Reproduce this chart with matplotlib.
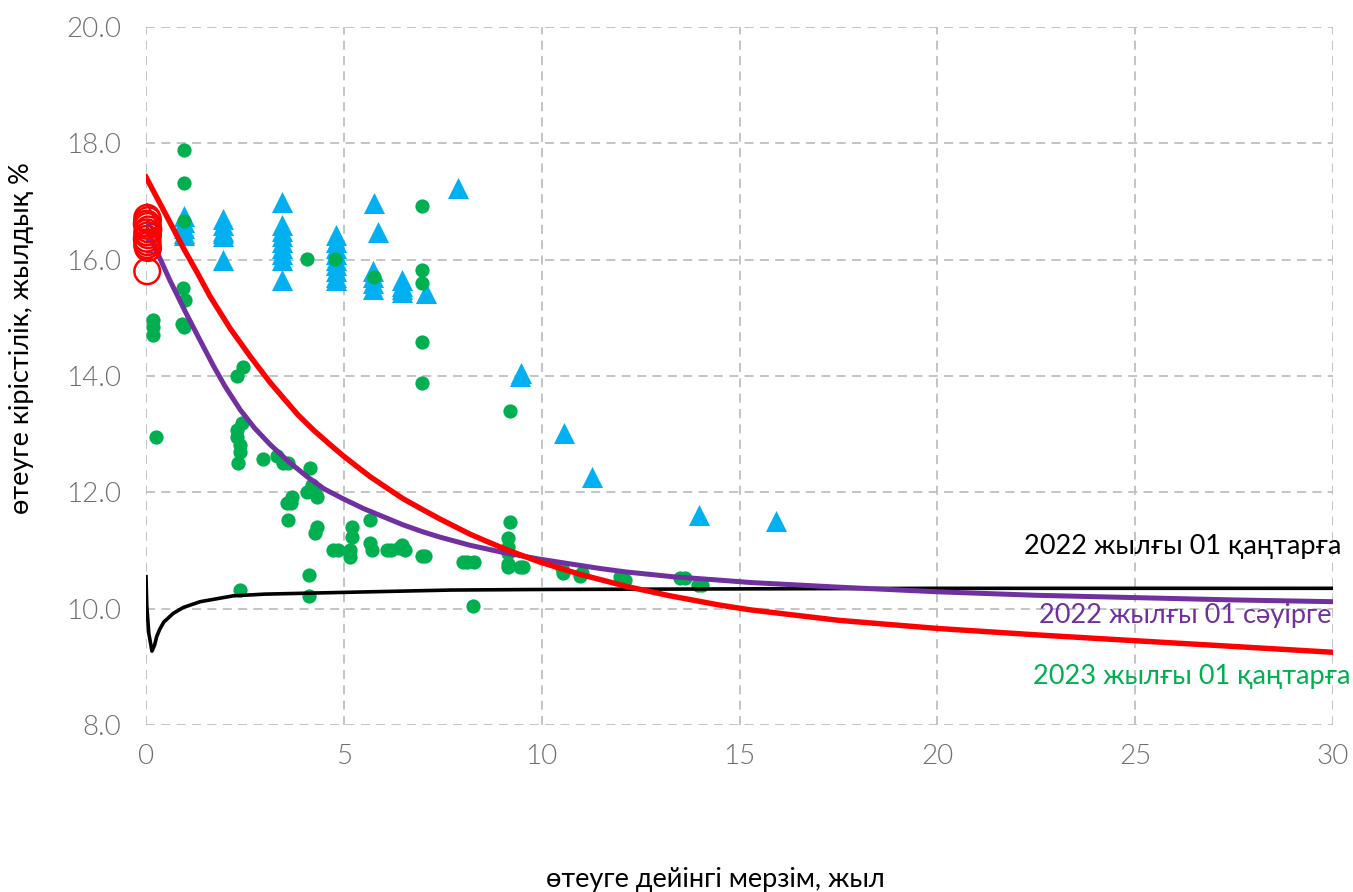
import matplotlib
matplotlib.use("Agg")
import matplotlib.pyplot as plt

# ---------------- data ----------------
# 2022-01 curve (black)
black_x = [0, 0.02, 0.07, 0.15, 0.22, 0.27, 0.35, 0.45, 0.69, 0.94, 1.37, 2.2, 3.0, 5.0, 7.7, 10, 15, 20, 25, 30]
black_y = [10.55, 10.05, 9.58, 9.27, 9.38, 9.52, 9.65, 9.77, 9.92, 10.02, 10.12, 10.22, 10.25, 10.28, 10.32, 10.33, 10.34, 10.35, 10.35, 10.35]

# 2022-04 curve (purple)
purple_x = [0, 0.2, 0.4, 0.6, 0.81, 0.99, 1.3, 1.7, 2.0, 2.38, 2.75, 3.14, 3.6, 4.07, 4.5, 4.98, 5.5, 6.0, 6.5, 7.0,
            7.43, 8.19, 9.0, 9.96, 11.48, 12.15, 13.3, 14.5, 15.27, 17.5, 20, 22.5, 25, 27.5, 30]
purple_y = [16.55, 16.25, 15.95, 15.65, 15.36, 15.11, 14.7, 14.18, 13.82, 13.42, 13.1, 12.82, 12.53, 12.27, 12.06, 11.89,
            11.72, 11.58, 11.44, 11.32, 11.23, 11.09, 10.97, 10.85, 10.69, 10.63, 10.55, 10.49, 10.45, 10.37,
            10.29, 10.23, 10.19, 10.15, 10.12]

# 2023-01 curve (red)
red_x = [0, 0.506, 0.961, 1.3, 1.618, 2.124, 2.63, 3.135, 3.5, 3.843, 4.25, 4.652, 4.981, 5.3, 5.664, 6.1, 6.498, 7.0,
         7.434, 8.192, 8.6, 9.128, 9.962, 10.973, 12.16, 13.25, 14.51, 15.27, 17.5, 20.0, 22.5, 24.98, 27.5, 30.0]
red_y = [17.42, 16.77, 16.18, 15.77, 15.37, 14.82, 14.34, 13.89, 13.6, 13.33, 13.06, 12.82, 12.63, 12.46, 12.27, 12.07,
         11.89, 11.70, 11.54, 11.28, 11.16, 11.01, 10.8, 10.59, 10.38, 10.22, 10.06, 9.98, 9.8, 9.66, 9.55, 9.45, 9.35, 9.25]

# red open circles (short-term)
circ_x = [0.03, 0.05, 0.02, 0.04, 0.06, 0.03, 0.05, 0.02, 0.04, 0.03, 0.05, 0.03]
circ_y = [16.72, 16.68, 16.62, 16.58, 16.52, 16.47, 16.42, 16.36, 16.3, 16.25, 16.2, 15.8]

# purple open triangles (short-term, mostly hidden)
ptri_x = [0.03, 0.04, 0.03]
ptri_y = [16.78, 16.5, 16.3]

# blue triangles
tri_x = [0.96, 0.96, 0.96, 0.96, 0.96,
         1.95, 1.95, 1.95, 1.95, 1.95, 1.95,
         3.44, 3.44, 3.44, 3.44, 3.44, 3.44, 3.44, 3.44, 3.44,
         4.8, 4.8, 4.8, 4.8, 4.8, 4.8, 4.8, 4.8, 4.8,
         5.77, 5.87, 5.74, 5.74, 5.74, 5.74,
         6.47, 6.47, 6.47, 6.47, 7.08, 7.89,
         9.48, 9.45, 10.57, 11.28, 13.98, 15.93]
tri_y = [16.75, 16.65, 16.55, 16.45, 16.42,
         16.7, 16.6, 16.5, 16.45, 16.4, 16.0,
         16.99, 16.6, 16.5, 16.4, 16.3, 16.2, 16.1, 16.0, 15.65,
         16.42, 16.3, 16.2, 16.1, 16.0, 15.9, 15.8, 15.7, 15.65,
         16.97, 16.48, 15.8, 15.7, 15.6, 15.5,
         15.65, 15.55, 15.5, 15.45, 15.43, 17.23,
         14.05, 14.0, 13.02, 12.26, 11.61, 11.51]

# green dots
dot_x = [0.96, 0.96, 0.96, 4.07, 4.78, 6.98, 5.76, 6.98, 6.98,
         0.94, 0.99, 0.18, 0.17, 0.18, 0.92, 0.95, 0.25,
         2.3, 2.46, 2.42, 2.3, 2.3, 2.38, 2.38, 2.33, 2.96,
         3.32, 3.47, 3.6, 4.15, 4.2, 4.07, 4.27, 4.32, 3.69, 3.56, 3.66, 3.59,
         4.32, 4.27, 5.2, 5.2, 5.66, 4.73, 4.85, 5.16, 5.16, 5.66, 5.71,
         6.1, 6.2, 6.47, 6.55, 6.4, 6.98, 7.05, 4.12, 4.12, 2.38, 6.98, 6.98,
         9.2, 9.2, 9.16, 9.16, 9.16, 9.16, 9.16, 9.46, 9.54, 8.0, 8.11, 8.28, 8.26,
         10.52, 10.55, 11.02, 10.98, 11.98, 12.11, 12.03, 13.5, 13.63, 13.96, 14.06]
dot_y = [17.89, 17.32, 16.66, 16.01, 16.01, 16.92, 15.70, 15.82, 15.6,
         15.51, 15.31, 14.96, 14.84, 14.71, 14.9, 14.85, 12.95,
         14.0, 14.16, 13.19, 13.07, 12.95, 12.81, 12.7, 12.5, 12.57,
         12.62, 12.5, 12.5, 12.42, 12.13, 12.01, 11.98, 11.92, 11.92, 11.82, 11.82, 11.52,
         11.4, 11.3, 11.4, 11.23, 11.52, 11.01, 11.01, 11.01, 10.89, 11.13, 11.01,
         11.01, 11.01, 11.1, 11.01, 11.05, 10.91, 10.91, 10.58, 10.21, 10.32, 14.59, 13.88,
         13.4, 11.49, 11.21, 11.06, 10.96, 10.76, 10.72, 10.72, 10.72, 10.8, 10.8, 10.8, 10.05,
         10.7, 10.61, 10.61, 10.56, 10.55, 10.49, 10.52, 10.52, 10.52, 10.41, 10.41]

x_ticks = [0, 5, 10, 15, 20, 25, 30]
y_ticks = [8, 10, 12, 14, 16, 18, 20]
labels = ["2022 жылғы 01 қаңтарға", "2022 жылғы 01 сәуірге", "2023 жылғы 01 қаңтарға"]
xlabel = "өтеуге дейінгі мерзім, жыл"
ylabel = "өтеуге кірістілік, жылдық %"

# ---------------- plot ----------------
plt.rcParams['font.family'] = ['Lato', 'DejaVu Sans']
fig = plt.figure(figsize=(13.53, 8.92), dpi=100)
ax = fig.add_axes([146/1353, 1-725/892, (1333-146)/1353, (725-27)/892])

ax.set_xlim(0, 30)
ax.set_ylim(8, 20)
for s in ax.spines.values():
    s.set_visible(False)
ax.set_xticks(x_ticks)
ax.set_yticks(y_ticks)
ax.set_xticklabels([str(t) for t in x_ticks])
ax.set_yticklabels([f"{t:.1f}" for t in y_ticks])
ax.tick_params(length=0, labelsize=20, labelcolor='#6f6f6f')
ax.tick_params(axis='y', pad=18)
ax.tick_params(axis='x', pad=14)
for lab in ax.get_xticklabels() + ax.get_yticklabels():
    lab.set_fontweight(300)
ax.grid(True, color='#bfbfbf', linestyle=(0, (5, 3.5)), linewidth=1.3)
ax.set_axisbelow(True)

ax.scatter(ptri_x, ptri_y, marker='^', s=220, facecolors='none', edgecolors='#7030A0', linewidths=1.5, zorder=3)
ax.scatter(tri_x, tri_y, marker='^', s=230, color='#00B0F0', linewidths=0, zorder=3)
ax.scatter(dot_x, dot_y, marker='o', s=105, color='#00B050', linewidths=0, zorder=4)
ax.plot(black_x, black_y, color='black', lw=2.6, zorder=5, solid_joinstyle='round')
ax.plot(purple_x, purple_y, color='#7030A0', lw=3.6, zorder=5, solid_joinstyle='round')
ax.plot(red_x, red_y, color='#FF0000', lw=3.9, zorder=6, solid_joinstyle='round')
ax.scatter(circ_x, circ_y, marker='o', s=340, facecolors='none', edgecolors='#FF0000', linewidths=1.8, zorder=7, clip_on=False)

ax.text(30.2, 11.07, labels[0], color='black', fontsize=19.5, ha='right', va='center', clip_on=False)
ax.text(29.95, 9.88, labels[1], color='#7030A0', fontsize=19.5, ha='right', va='center', clip_on=False)
ax.text(30.45, 8.84, labels[2], color='#00B050', fontsize=19.5, ha='right', va='center', clip_on=False)

fig.text(715/1353, 1-880/892, xlabel, fontsize=19.5, ha='center', va='center', color='black')
fig.text(22/1353, 1-338/892, ylabel, fontsize=19.5, ha='center', va='center', rotation=90, color='black')

fig.savefig("out.png", dpi=100)
